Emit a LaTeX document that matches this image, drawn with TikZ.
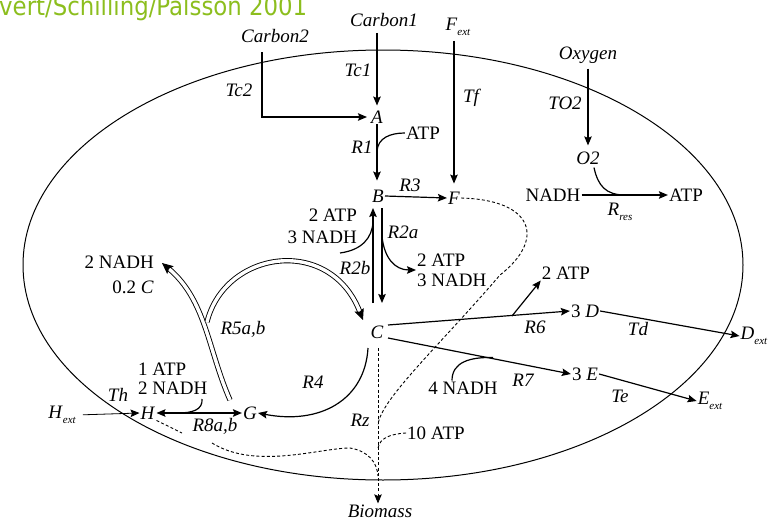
\documentclass[tikz,border=0pt]{standalone}
\usepackage{fontspec}
\setmainfont{Liberation Serif}
\newfontfamily\titlefont{DejaVu Sans}
\usetikzlibrary{arrows.meta,calc}
\definecolor{titlegreen}{RGB}{140,190,30}
\newcommand\subx[1]{\raisebox{-0.55ex}{\fontsize{11}{11}\selectfont\itshape #1}}
\begin{document}
\begin{tikzpicture}[x=1pt,y=-1pt,
  every node/.style={font=\fontsize{19}{20}\selectfont, inner sep=1pt},
  lbl/.style={font=\fontsize{19}{20}\selectfont\itshape},
  conn/.style={line width=1.2pt},
  tip/.tip={Stealth[length=9pt,width=7.5pt,inset=1.5pt]},
  arr/.style={conn,-tip},
  dbl/.style={double=white, double distance=3.4pt, line width=0.9pt},
  dsh/.style={line width=0.9pt, dash pattern=on 3pt off 2.2pt}]
\useasboundingbox (0,0) rectangle (780,522);

% cell boundary
\draw[line width=1pt] (383,265) ellipse [x radius=360pt, y radius=215pt];

% title
\node[anchor=base west, inner sep=0pt, text=titlegreen] (title) at (-1,16)
  {\resizebox{308pt}{19.5pt}{\titlefont\fontsize{20}{20}\selectfont vert/Schilling/Palsson 2001}};

% metabolites and texts
\node (carbon1) at (384,20) {\textit{Carbon1}};
\node (carbon2) at (275,36) {\textit{Carbon2}};
\node (fext) at (458,27) {\textit{F}\subx{ext}};
\node (oxygen) at (588,55) {\textit{Oxygen}};
\node (A) at (377,117) {\textit{A}};
\node (B) at (378,196) {\textit{B}};
\node (F) at (454,198) {\textit{F}};
\node (O2) at (588,158) {\textit{O2}};
\node (nadhR) at (553,195) {NADH};
\node (atpR) at (686,195) {ATP};
\node (atp1) at (423,133) {ATP};
\node (C) at (377,332) {\textit{C}};
\node[align=right, anchor=east, font=\fontsize{19}{21.5}\selectfont] (inL) at (358,226.5) {2 ATP\\3 NADH};
\node[align=left, anchor=west] (outR) at (416,270) {2 ATP\\3 NADH};
\node[align=right, anchor=east, font=\fontsize{19}{25}\selectfont] (out5) at (155,274.5) {2 NADH\\0.2 \textit{C}};
\node[align=left, anchor=west, font=\fontsize{19}{19}\selectfont] (in8) at (137,378.5) {1 ATP\\2 NADH};
\node (H) at (148,413) {\textit{H}};
\node (G) at (250,413) {\textit{G}};
\node (hext) at (62,415) {\textit{H}\subx{ext}};
\node (D3) at (585,311) {3 \textit{D}};
\node (E3) at (585,374) {3 \textit{E}};
\node (atp6) at (566,273) {2 ATP};
\node (nadh7) at (463,388) {4 NADH};
\node (dext) at (754,336) {\textit{D}\subx{ext}};
\node (eext) at (710,401) {\textit{E}\subx{ext}};
\node (tenatp) at (436,433) {10 ATP};
\node (biomass) at (380,511) {\textit{Biomass}};

% reaction labels
\node[lbl] (tc1) at (358,70) {Tc1};
\node[lbl] (tc2) at (239,90) {Tc2};
\node[lbl] (tf) at (471,98) {Tf};
\node[lbl] (to2) at (565,103) {TO2};
\node[lbl] (r1) at (362,147) {R1};
\node[lbl] (r3) at (410,185) {R3};
\node (rres) at (620,212) {\textit{R}\subx{res}};
\node[lbl] (r2a) at (403,232) {R2a};
\node[lbl] (r2b) at (355,268) {R2b};
\node[lbl] (r5) at (243,329) {R5a,b};
\node[lbl] (r4) at (313,382) {R4};
\node[lbl] (th) at (118,395) {Th};
\node[lbl] (r8) at (215,426) {R8a,b};
\node[lbl] (rz) at (360,420) {Rz};
\node[lbl] (r6) at (535,327) {R6};
\node[lbl] (td) at (638,329) {Td};
\node[lbl] (r7) at (523,380) {R7};
\node[lbl] (te) at (620,396) {Te};

% helper coordinates
\coordinate (c2s) at (262,52);
\coordinate (rj) at (625,195);
\coordinate (r1j) at (377,151);
\coordinate (r2bs) at (373,303);
\coordinate (r2bt) at (373,208);
\coordinate (r2as) at (382,208);
\coordinate (r2at) at (382,303);
\coordinate (r2bj) at (373,222);
\coordinate (r2aj) at (382,236);
\coordinate (inLend) at (340,253);
\coordinate (r5s) at (230,400);
\coordinate (r5m) at (207,322);
\coordinate (r5l) at (162,263);
\coordinate (r5c) at (363,320);
\coordinate (r4s) at (368,348);
\coordinate (r8j) at (178,413);
\coordinate (in8end) at (202,399);
\coordinate (hd1) at (182,433);
\coordinate (hd2) at (212,443);
\coordinate (rzt) at (378,348);
\coordinate (rzf) at (378,425);
\coordinate (rza) at (378,448);
\coordinate (rzh) at (378,476);
\coordinate (r6s) at (388,325);
\coordinate (r6j) at (512,316);
\coordinate (r7s) at (388,338);
\coordinate (r7j) at (493,357.5);

% transports
\draw[arr, shorten >=3pt] (c2s) |- (A.west);
\draw[arr, shorten <=5pt, shorten >=4pt] (A |- carbon1.south) -- (A.north);
\draw[arr, shorten <=4pt, shorten >=7pt] (F |- fext.south) -- (F.north);
\draw[arr, shorten <=4pt, shorten >=5pt] (O2 |- oxygen.south) -- (O2.north);
\draw[arr, line width=0.8pt, shorten <=6pt] (hext.east) -- (H.west);
\draw[arr] (D3.east) -- (dext.west);
\draw[arr] (E3.east) -- (eext.west);

% respiration
\draw[arr] (nadhR.east) -- (atpR.west);
\draw[conn] ($(O2.south)+(6,2)$) .. controls (598,186) and (606,195) .. (rj);

% R1, R3
\draw[arr, shorten >=8pt] (A.south) -- (A.south |- B.north);
\draw[conn] (atp1.west) .. controls (390,133) and (378,138) .. (r1j);
\draw[arr] (B.east) -- (F.west);

% R2a / R2b
\draw[arr] (r2bs) -- (r2bt);
\draw[arr] (r2as) -- (r2at);
\draw[conn] (inLend) .. controls (362,250) and (372,238) .. (r2bj);
\draw[arr] (r2aj) .. controls (384,258) and (395,270) .. (outR.west);

% R5a,b (double arrows)
\draw[dbl, -{Stealth[length=11pt,width=10pt,inset=2pt]}] (r5s) .. controls (208,350) and (206,300) .. (r5l);
\draw[dbl, -{Stealth[length=11pt,width=10pt,inset=2pt]}] (r5m) .. controls (225,250) and (330,235) .. (r5c);

% R4
\draw[arr] (r4s) .. controls (365,400) and (320,425) .. (G.east);

% R8a,b
\draw[conn, tip-tip] (H.east) -- (G.west);
\draw[conn] (in8end) .. controls (203,410) and (192,413) .. (r8j);

% R6, R7
\draw[arr] (r6s) -- (D3.west);
\draw[arr] (r6j) -- (atp6.south west);
\draw[arr] (r7s) -- (E3.west);
\draw[conn] ($(nadh7.north)+(-11,0)$) .. controls (452,362) and (470,357) .. (r7j);

% biomass (Rz) dashed
\draw[dsh, -tip] (rzt) -- (rzt |- biomass.north);
\draw[dsh] (F.east) .. controls (535,200) and (545,240) .. (500,275) .. controls (440,345) and (380,400) .. (rzf);
\draw[dsh] (tenatp.west) .. controls (390,434) and (380,438) .. (rza);
\draw[dsh] (H.south east) -- (hd1);
\draw[dsh] (hd2) .. controls (255,470) and (320,448) .. (350,448) .. controls (368,451) and (377,462) .. (rzh);
\end{tikzpicture}
\end{document}
